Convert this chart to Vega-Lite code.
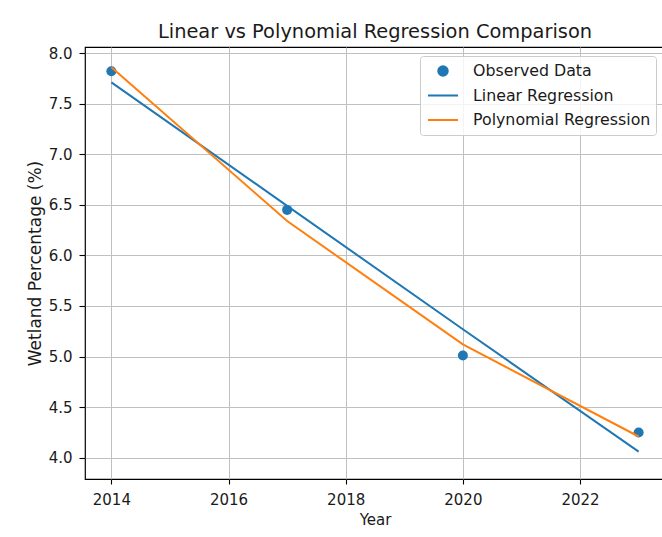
{
  "$schema": "https://vega.github.io/schema/vega-lite/v6.json",
  "width": 580,
  "height": 432,
  "autosize": {"type": "none"},
  "padding": {"left": 85, "top": 47, "right": 0, "bottom": 58},
  "background": "white",
  "title": {
    "text": "Linear vs Polynomial Regression Comparison",
    "fontSize": 19.4,
    "fontWeight": "normal",
    "font": "DejaVu Sans",
    "color": "#1a1a1a",
    "offset": 4,
    "anchor": "middle"
  },
  "data": {
    "values": [
      {"year": 2014, "value": 7.82, "series": "Observed Data"},
      {"year": 2017, "value": 6.45, "series": "Observed Data"},
      {"year": 2020, "value": 5.01, "series": "Observed Data"},
      {"year": 2023, "value": 4.25, "series": "Observed Data"},
      {"year": 2014, "value": 7.71, "series": "Linear Regression"},
      {"year": 2017, "value": 6.49, "series": "Linear Regression"},
      {"year": 2020, "value": 5.27, "series": "Linear Regression"},
      {"year": 2023, "value": 4.06, "series": "Linear Regression"},
      {"year": 2014, "value": 7.86, "series": "Polynomial Regression"},
      {"year": 2017, "value": 6.34, "series": "Polynomial Regression"},
      {"year": 2020, "value": 5.12, "series": "Polynomial Regression"},
      {"year": 2023, "value": 4.21, "series": "Polynomial Regression"}
    ]
  },
  "encoding": {
    "x": {
      "field": "year",
      "type": "quantitative",
      "scale": {"domain": [2013.55, 2023.45], "nice": false, "zero": false},
      "axis": {"values": [2014, 2016, 2018, 2020, 2022], "format": "d", "title": "Year"}
    },
    "y": {
      "field": "value",
      "type": "quantitative",
      "scale": {"domain": [3.79, 8.06], "nice": false, "zero": false},
      "axis": {"values": [4, 4.5, 5, 5.5, 6, 6.5, 7, 7.5, 8], "format": ".1f", "title": "Wetland Percentage (%)"}
    },
    "color": {
      "field": "series",
      "type": "nominal",
      "scale": {
        "domain": ["Observed Data", "Linear Regression", "Polynomial Regression"],
        "range": ["#1f77b4", "#1f77b4", "#ff7f0e"]
      },
      "legend": {
        "title": null,
        "orient": "top-right",
        "offset": 9,
        "padding": 5,
        "clipHeight": 20,
        "symbolType": "stroke",
        "symbolSize": 256,
        "symbolStrokeWidth": 2,
        "symbolOffset": 2,
        "labelOffset": 14,
        "rowPadding": 4.5,
        "labelFontSize": 15.8,
        "labelLimit": 400,
        "labelFont": "DejaVu Sans",
        "labelColor": "#1a1a1a",
        "fillColor": "rgba(255,255,255,0.8)",
        "strokeColor": "#cccccc",
        "cornerRadius": 3,
        "encode": {
          "symbols": {
            "update": {
              "shape": {"signal": "datum.value === 'Observed Data' ? 'circle' : 'stroke'"},
              "size": {"signal": "datum.value === 'Observed Data' ? 90 : 900"},
              "fill": {"signal": "datum.value === 'Observed Data' ? '#1f77b4' : 'transparent'"},
              "stroke": {"signal": "datum.value === 'Observed Data' ? 'transparent' : (datum.value === 'Linear Regression' ? '#1f77b4' : '#ff7f0e')"},
              "strokeWidth": {"value": 2},
              "opacity": {"value": 1}
            }
          }
        }
      }
    }
  },
  "layer": [
    {
      "transform": [{"filter": "datum.series === 'Observed Data'"}],
      "mark": {"type": "point", "filled": true, "size": 100, "opacity": 1}
    },
    {
      "transform": [{"filter": "datum.series === 'Linear Regression'"}],
      "mark": {"type": "line", "strokeWidth": 2}
    },
    {
      "transform": [{"filter": "datum.series === 'Polynomial Regression'"}],
      "mark": {"type": "line", "strokeWidth": 2}
    }
  ],
  "config": {
    "font": "DejaVu Sans",
    "view": {"stroke": "black", "strokeWidth": 1.2},
    "axis": {
      "grid": true,
      "gridColor": "#c0c0c0",
      "gridWidth": 1,
      "domain": false,
      "tickColor": "black",
      "tickSize": 5,
      "tickWidth": 1.1,
      "labelPadding": 5,
      "labelFontSize": 15,
      "labelFont": "DejaVu Sans",
      "labelColor": "#1a1a1a",
      "titleFontSize": 15,
      "titleFont": "DejaVu Sans",
      "titleFontWeight": "normal",
      "titleColor": "#1a1a1a",
      "labelFlush": false,
      "labelOverlap": false
    },
    "axisX": {"titlePadding": 5, "labelPadding": 8},
    "axisY": {"titlePadding": 4, "titleFontSize": 17, "tickSize": 6, "labelPadding": 7}
  }
}
